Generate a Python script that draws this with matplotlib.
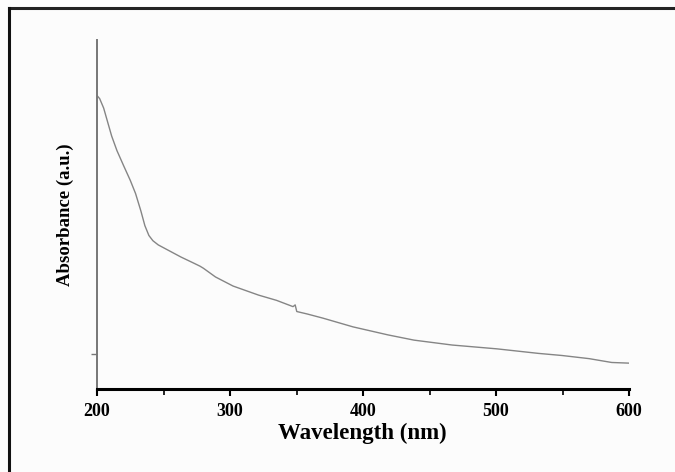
import numpy as np
import matplotlib.pyplot as plt
from matplotlib.lines import Line2D
from matplotlib.ticker import MultipleLocator

# Данные спектра поглощения
wavelength = [200.2, 202.0, 205.0, 208.0, 211.0, 215.0, 220.0, 225.0, 229.0, 233.0,
              236.0, 239.0, 242.0, 246.0, 250.4, 263.2, 272.0, 277.4, 280.0, 289.1,
              302.3, 321.5, 335.0, 347.4, 349.0, 350.2, 358.0, 369.9, 392.5, 418.8,
              438.4, 467.0, 500.8, 532.0, 549.6, 570.0, 587.0, 600.8]
absorbance = [0.840, 0.832, 0.805, 0.765, 0.725, 0.683, 0.640, 0.598, 0.560, 0.510,
              0.468, 0.440, 0.425, 0.413, 0.404, 0.378, 0.362, 0.352, 0.346, 0.321,
              0.295, 0.269, 0.254, 0.236, 0.241, 0.222, 0.215, 0.203, 0.178, 0.155,
              0.140, 0.126, 0.115, 0.102, 0.096, 0.087, 0.076, 0.074]

x_ticks = [200, 300, 400, 500, 600]


def main():
    plt.rcParams['font.family'] = ['Liberation Serif', 'DejaVu Serif']
    plt.rcParams['font.weight'] = 'bold'

    fig = plt.figure(figsize=(6.75, 4.72), dpi=100, facecolor='#fcfcfc')
    ax = fig.add_axes([97 / 675, 1 - 389 / 472, 532 / 675, 349 / 472])
    ax.set_facecolor('#fcfcfc')

    ax.plot(wavelength, absorbance, color='#858585', linewidth=1.0)

    ax.set_xlim(200, 600)
    ax.set_ylim(0, 1)
    ax.set_xticks(x_ticks)
    ax.xaxis.set_minor_locator(MultipleLocator(50))
    ax.set_yticks([0.1])
    ax.set_yticklabels([])

    # Оси: снизу черная, слева серая
    ax.spines['top'].set_visible(False)
    ax.spines['right'].set_visible(False)
    ax.spines['bottom'].set_linewidth(2.2)
    ax.spines['bottom'].set_color('black')
    ax.spines['left'].set_linewidth(1.4)
    ax.spines['left'].set_color('#777777')

    ax.tick_params(axis='x', which='major', direction='out', length=5, width=1.5,
                   pad=5, labelsize=13)
    ax.tick_params(axis='x', which='minor', direction='out', length=4, width=1.2)
    ax.tick_params(axis='y', direction='out', length=4, width=1, color='#777777')

    ax.set_xlabel('Wavelength (nm)', fontsize=16.5, fontweight='bold')
    ax.xaxis.set_label_coords(0.498, -0.126)
    ax.xaxis.label.set_va('center')
    ax.set_ylabel('Absorbance (a.u.)', fontsize=13.5, fontweight='bold')
    ax.yaxis.set_label_coords(-0.060, 0.50)
    ax.yaxis.label.set_va('center')

    # Рамка рисунка (только сверху и слева)
    fig.add_artist(Line2D([9 / 675, 1], [1 - 8 / 472, 1 - 8 / 472],
                          transform=fig.transFigure, color='#222222', linewidth=2.2))
    fig.add_artist(Line2D([9 / 675, 9 / 675], [0, 1 - 8 / 472],
                          transform=fig.transFigure, color='#111111', linewidth=2.2))

    fig.savefig('out.png', dpi=100, facecolor=fig.get_facecolor())


if __name__ == "__main__":
    main()
